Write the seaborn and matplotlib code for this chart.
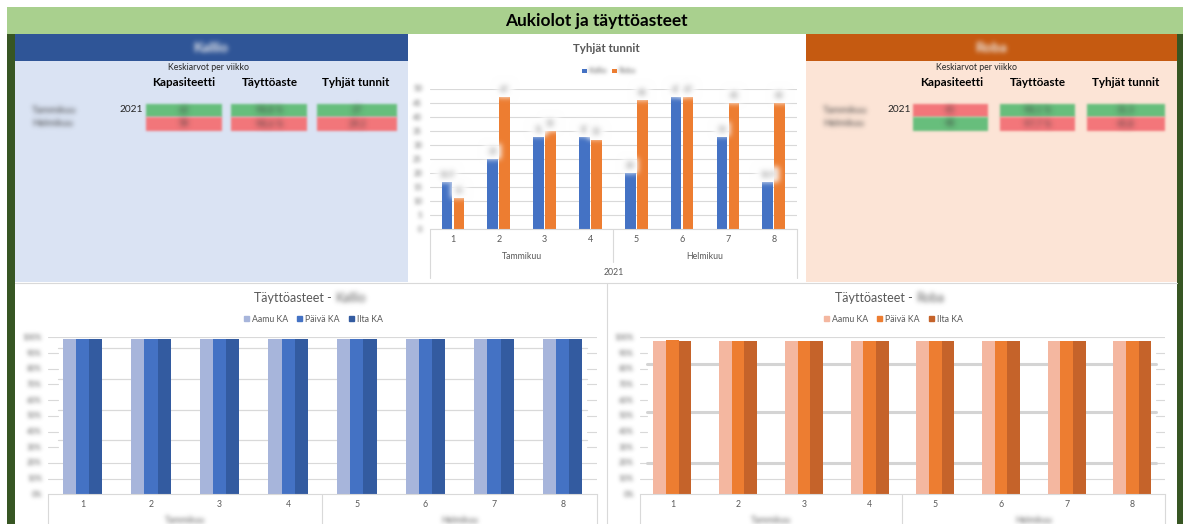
import numpy as np
import pandas as pd
import matplotlib
matplotlib.use("Agg")
import matplotlib.pyplot as plt
from matplotlib.patches import Rectangle, Patch
import seaborn as sns

# ---------------- data ----------------
weeks = ["1", "2", "3", "4", "5", "6", "7", "8"]
months = ["Tammikuu", "Helmikuu"]
year = "2021"
sites = ["Kallio", "Roba"]

# empty hours per week
empty_kallio = [16.9, 25, 33, 33, 20, 47, 33, 16.9]
empty_roba = [11, 47, 35, 32, 46, 47, 45, 45]
empty_ticks = [0, 5, 10, 15, 20, 25, 30, 35, 40, 45, 50]

# average fill rate per week and shift (%)
shifts = ["Aamu KA", "Päivä KA", "Ilta KA"]
fill_kallio_aamu = [98.7, 98.7, 98.7, 98.7, 98.7, 98.7, 98.7, 98.7]
fill_kallio_paiva = [98.7, 98.7, 98.7, 98.7, 98.7, 98.7, 98.7, 98.7]
fill_kallio_ilta = [98.7, 98.7, 98.7, 98.7, 98.7, 98.7, 98.7, 98.7]
fill_roba_aamu = [97.6, 97.6, 97.6, 97.6, 97.6, 97.6, 97.6, 97.6]
fill_roba_paiva = [98.3, 97.6, 97.6, 97.6, 97.6, 97.6, 97.6, 97.6]
fill_roba_ilta = [97.6, 97.6, 97.6, 97.6, 97.6, 97.6, 97.6, 97.6]
fill_ticks = [0, 10, 20, 30, 40, 50, 60, 70, 80, 90, 100]

# monthly averages per week
table_cols = ["Kapasiteetti", "Täyttöaste", "Tyhjät tunnit"]
kallio_capacity = [62, 58]
kallio_fill = [98.8, 98.6]
kallio_empty = [27.0, 29.2]
roba_capacity = [45, 48]
roba_fill = [98.1, 97.7]
roba_empty = [31.3, 45.8]

# ---------------- style ----------------
sns.set_theme(style="white")
plt.rcParams["font.family"] = ["Lato", "DejaVu Sans"]

GRAY_TXT = "#595959"
GRID = "#D9D9D9"
BLUE, ORANGE = "#4472C4", "#ED7D31"
KALLIO_SHADES = ["#A7B5DB", "#4472C4", "#335BA0"]
ROBA_SHADES = ["#F4B7A0", "#ED7D31", "#C5632A"]
GOOD, BAD = "#66BF7C", "#F3767A"

W, H = 1186, 524
fig = plt.figure(figsize=(W / 100, H / 100), dpi=100)
fig.patch.set_facecolor("white")

bg = fig.add_axes([0, 0, 1, 1])
bg.set_xlim(0, W)
bg.set_ylim(H, 0)
bg.axis("off")


def px_axes(x0, y0, x1, y1):
    a = fig.add_axes([x0 / W, 1 - y1 / H, (x1 - x0) / W, (y1 - y0) / H])
    a.set_facecolor("none")
    return a


def blur(sigma):
    r = max(1, int(np.ceil(3 * sigma)))
    k = np.exp(-0.5 * (np.arange(-r, r + 1) / sigma) ** 2)
    k /= k.sum()

    def _filter(im, dpi):
        a = np.pad(im, ((r, r), (r, r), (0, 0)))
        alpha = a[..., 3:4]
        pm = np.concatenate([a[..., :3] * alpha, alpha], axis=-1)
        for axis in (0, 1):
            out = np.zeros_like(pm)
            for i, w in enumerate(k):
                out += w * np.roll(pm, i - r, axis=axis)
            pm = out
        alpha = pm[..., 3:4]
        rgb = pm[..., :3] / np.maximum(alpha, 1e-6)
        return np.concatenate([np.clip(rgb, 0, 1), np.clip(alpha, 0, 1)], axis=-1), -r, -r

    return _filter


def smudge(artist, sigma=2.2):
    artist.set_agg_filter(blur(sigma))
    return artist


def box(x0, y0, x1, y1, color, **kw):
    p = Rectangle((x0, y0), x1 - x0, y1 - y0, facecolor=color, edgecolor="none", lw=0, **kw)
    bg.add_patch(p)
    return p


def fmt(v, pct=False):
    s = f"{v:.1f}".replace(".", ",") if v != int(v) else f"{int(v)}"
    return s + " %" if pct else s


# ---------------- frame ----------------
box(7, 7, 1183, 34, "#A9D08E")
bg.text(596, 21, "Aukiolot ja täyttöasteet", ha="center", va="center",
        fontsize=12.4, fontweight="bold", color="black")
box(7, 34, 15, H, "#375623")
box(1177, 34, 1183, H, "#375623")
box(15, 282, 1177, H, "white")
bg.plot([15, 1177], [282.5, 282.5], color=GRID, lw=0.8)
bg.plot([606.5, 606.5], [282.5, H], color=GRID, lw=0.8)


# ---------------- summary panels ----------------
def summary_panel(x0, x1, head_color, body_color, name, label_x, year_x,
                  col_centres, cell_ranges, capacity, fill, empty):
    box(x0, 34, x1, 61, head_color)
    box(x0, 61, x1, 282, body_color)
    smudge(bg.text((x0 + x1) / 2, 47.5, name, ha="center", va="center",
                   fontsize=10, fontweight="bold", color="#F2F2F2"), 2.4)
    bg.text(col_centres[1] - 62, 67, "Keskiarvot per viikko", ha="center", va="center",
            fontsize=6.3, color="#262626")
    for cx, title in zip(col_centres, table_cols):
        bg.text(cx, 82.5, title, ha="center", va="center", fontsize=8.4,
                fontweight="bold", color="black")
    rows = [(103.5, 117), (117, 131)]
    bg.text(year_x, 110, year, ha="right", va="center", fontsize=7.3, color="#262626")
    for (ry0, ry1), m in zip(rows, months):
        smudge(bg.text(label_x, (ry0 + ry1) / 2, m, ha="left", va="center",
                       fontsize=7, color="#404040"), 2.4)
    columns = [(capacity, True, False), (fill, True, True), (empty, False, False)]
    for (cx0, cx1), (vals, high_good, pct) in zip(cell_ranges, columns):
        best = max(vals) if high_good else min(vals)
        for (ry0, ry1), v in zip(rows, vals):
            smudge(box(cx0, ry0, cx1, ry1, GOOD if v == best else BAD), 1.2)
            smudge(bg.text((cx0 + cx1) / 2, (ry0 + ry1) / 2, fmt(v, pct), ha="center",
                           va="center", fontsize=6.5, color="#3A3A3A"), 2.8)


summary_panel(15, 408, "#2F5597", "#DAE3F3", sites[0], 32, 143,
              [184, 270, 356], [(146, 222), (231, 307), (317, 397)],
              kallio_capacity, kallio_fill, kallio_empty)
summary_panel(806, 1177, "#C55A11", "#FCE4D6", sites[1], 823, 911,
              [952, 1038, 1126], [(913, 988), (1000, 1075), (1087, 1165)],
              roba_capacity, roba_fill, roba_empty)

# ---------------- empty hours chart ----------------
box(408, 34, 806, 282, "white")
bg.text(606.7, 49, "Tyhjät tunnit", ha="center", va="center", fontsize=8.3,
        fontweight="bold", color=GRAY_TXT)
for sx, col, name in [(582, BLUE, sites[0]), (612, ORANGE, sites[1])]:
    box(sx, 68.5, sx + 4.5, 73, col)
    smudge(bg.text(sx + 6, 70.7, name, ha="left", va="center", fontsize=5.5,
                   color=GRAY_TXT), 2.0)

empty_df = pd.DataFrame({
    "Viikko": weeks * 2,
    "Tunnit": empty_kallio + empty_roba,
    "Kohde": [sites[0]] * len(weeks) + [sites[1]] * len(weeks),
})
ax = px_axes(430, 89, 796.7, 229.3)
sns.barplot(data=empty_df, x="Viikko", y="Tunnit", hue="Kohde", order=weeks,
            hue_order=sites, palette=[BLUE, ORANGE], saturation=1, width=0.524,
            gap=0.11, errorbar=None, legend=False, linewidth=0, ax=ax)
ax.set_xlim(-0.5, len(weeks) - 0.5)
ax.set_ylim(empty_ticks[0], empty_ticks[-1])
ax.set_yticks(empty_ticks)
ax.grid(axis="y", color=GRID, lw=0.8)
ax.set_axisbelow(True)
ax.tick_params(length=0, labelleft=False, labelbottom=False)
ax.set_xlabel("")
ax.set_ylabel("")
for s in ["top", "left", "right"]:
    ax.spines[s].set_visible(False)
ax.spines["bottom"].set_color(GRID)
ax.spines["bottom"].set_linewidth(0.8)

for cont, vals in zip(ax.containers, [empty_kallio, empty_roba]):
    labels = ax.bar_label(cont, labels=[fmt(v) for v in vals], padding=3, fontsize=5.5,
                          color=GRAY_TXT,
                          bbox=dict(boxstyle="square,pad=0.5", fc="white", ec="none"))
    for t in labels:
        smudge(t, 2.0)

ytr = ax.get_yaxis_transform()
xtr = ax.get_xaxis_transform()
for v in empty_ticks:
    smudge(ax.text(-0.022, v, str(v), transform=ytr, ha="right", va="center",
                   fontsize=5.5, color=GRAY_TXT), 2.0)
for i, w in enumerate(weeks):
    ax.text(i, -0.076, w, transform=xtr, ha="center", va="center", fontsize=6.5,
            color=GRAY_TXT)
for j, m in enumerate(months):
    ax.text(j * 4 + 1.5, -0.195, m, transform=xtr, ha="center", va="center",
            fontsize=6.3, color=GRAY_TXT)
ax.text(3.5, -0.306, year, transform=xtr, ha="center", va="center", fontsize=6.3,
        color=GRAY_TXT)
for xv, depth in [(-0.5, -0.347), (3.5, -0.233), (7.5, -0.347)]:
    ax.plot([xv, xv], [0, depth], transform=xtr, color=GRID, lw=0.8, clip_on=False)


# ---------------- fill rate charts ----------------
def fill_chart(rect, series, shades, name, title_x, legend_x, stub, extra, thick):
    a = px_axes(*rect)
    df = pd.DataFrame({
        "Viikko": weeks * 3,
        "Täyttö": series[0] + series[1] + series[2],
        "Vuoro": [shifts[0]] * 8 + [shifts[1]] * 8 + [shifts[2]] * 8,
    })
    sns.barplot(data=df, x="Viikko", y="Täyttö", hue="Vuoro", order=weeks,
                hue_order=shifts, palette=shades, saturation=1, width=0.577, gap=0,
                errorbar=None, legend=False, linewidth=0, edgecolor="none", ax=a)
    a.set_xlim(-0.5, len(weeks) - 0.5)
    a.set_ylim(fill_ticks[0], fill_ticks[-1])
    a.tick_params(length=0, labelleft=False, labelbottom=False)
    a.set_xlabel("")
    a.set_ylabel("")
    for s in ["top", "left", "right"]:
        a.spines[s].set_visible(False)
    a.spines["bottom"].set_color(GRID)
    a.spines["bottom"].set_linewidth(0.8)

    ytr = a.get_yaxis_transform()
    xtr = a.get_xaxis_transform()
    # horizontal rules: some run the full width, the rest only show at the edges
    for v in fill_ticks[1:]:
        if v in (10, 20, 100):
            a.plot([0, 1], [v, v], transform=ytr, color=GRID, lw=0.8, zorder=0.5)
        else:
            a.plot([0, stub[0]], [v, v], transform=ytr, color=GRID, lw=0.8, zorder=0.5)
            a.plot([stub[1], 1], [v, v], transform=ytr, color=GRID, lw=0.8, zorder=0.5)
    for v in extra:
        a.plot([stub[0], stub[1]], [v, v], transform=ytr, color=GRID, lw=0.9, zorder=0.5)
    for v in thick:
        a.plot([stub[0], stub[1]], [v, v], transform=ytr, color="#D4D4D4", lw=2.2,
               zorder=0.5)

    for v in fill_ticks:
        smudge(a.text(-0.011, v, f"{v}%", transform=ytr, ha="right", va="center",
                      fontsize=5.5, color=GRAY_TXT), 2.0)
    for i, w in enumerate(weeks):
        a.text(i, -0.068, w, transform=xtr, ha="center", va="center", fontsize=6.3,
               color=GRAY_TXT)
    for j, m in enumerate(months):
        smudge(a.text(j * 4 + 1.5, -0.164, m, transform=xtr, ha="center", va="center",
                      fontsize=6.3, color=GRAY_TXT), 2.2)
    for xv in (-0.5, 3.5, 7.5):
        a.plot([xv, xv], [0, -0.4], transform=xtr, color=GRID, lw=0.8, clip_on=False)

    a.legend(handles=[Patch(color=c, label=s) for c, s in zip(shades, shifts)],
             loc="center", bbox_to_anchor=(legend_x, 1.115), ncol=3, frameon=False,
             fontsize=6.3, handlelength=0.55, handleheight=0.55, handletextpad=0.35,
             columnspacing=1.1, labelcolor=GRAY_TXT, borderaxespad=0)

    bg.text(title_x, 298, "Täyttöasteet -", ha="right", va="center", fontsize=9,
            color=GRAY_TXT)
    smudge(bg.text(title_x + 4, 298, name, ha="left", va="center", fontsize=9,
                   color=GRAY_TXT), 2.4)
    return a


fill_chart((48, 337.3, 597, 494.3),
           [fill_kallio_aamu, fill_kallio_paiva, fill_kallio_ilta], KALLIO_SHADES,
           sites[0], 332, 0.4836, (0.019, 0.982), [93.4, 73.2, 53.7, 34.4], [])
fill_chart((639.6, 337.3, 1165.3, 494.3),
           [fill_roba_aamu, fill_roba_paiva, fill_roba_ilta], ROBA_SHADES,
           sites[1], 913, 0.483, (0.0135, 0.983), [], [83.0, 52.2, 20.0])

fig.savefig("out.png", dpi=100, facecolor="white")
